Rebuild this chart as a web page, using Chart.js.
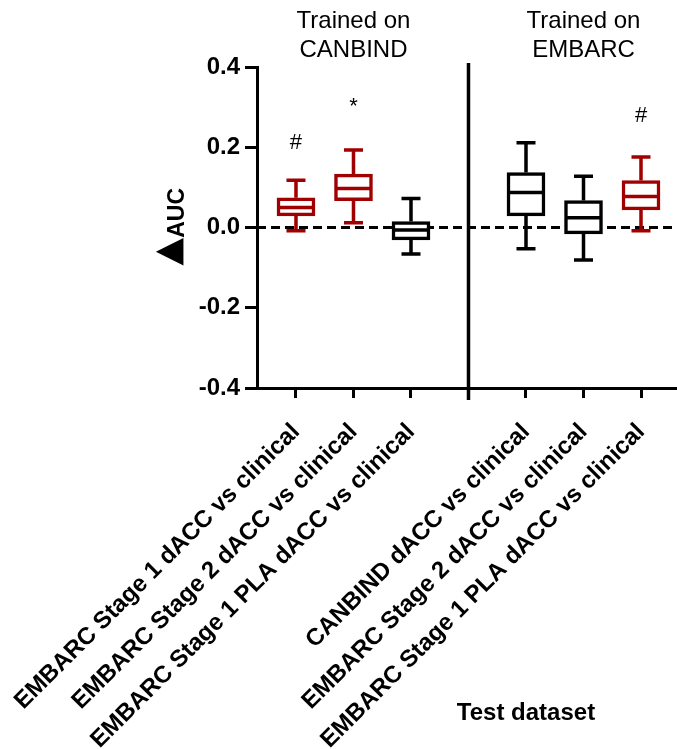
<!DOCTYPE html>
<html>
<head>
<meta charset="utf-8">
<script src="https://cdn.jsdelivr.net/npm/chart.js@4.4.1/dist/chart.umd.min.js"></script>
<style>
    html, body { margin: 0; padding: 0; background: #fff; }
    #wrap { width: 677px; height: 749px; }
</style>
</head>
<body>
<div id="wrap"><canvas id="boxChart" width="677" height="749"></canvas></div>
<script>
// test datasets, in plot order (x = 4 is the gap between the two groups)
const labels = [
    'EMBARC Stage 1 dACC vs clinical',
    'EMBARC Stage 2 dACC vs clinical',
    'EMBARC Stage 1 PLA dACC vs clinical',
    'CANBIND dACC vs clinical',
    'EMBARC Stage 2 dACC vs clinical',
    'EMBARC Stage 1 PLA dACC vs clinical'
];
const positions = [1, 2, 3, 5, 6, 7];

// box plot values (delta AUC)
const mins    = [-0.008, 0.012, -0.066, -0.053, -0.081, -0.008];
const q1s     = [ 0.029, 0.067, -0.031,  0.029, -0.016,  0.044];
const medians = [ 0.050, 0.097, -0.006,  0.087,  0.024,  0.077];
const q3s     = [ 0.074, 0.133,  0.015,  0.137,  0.067,  0.117];
const maxs    = [ 0.118, 0.193,  0.072,  0.211,  0.128,  0.176];

const boxColors = ['#a00000', '#a00000', '#000000', '#000000', '#000000', '#a00000'];

// significance marks and the value their baseline sits on
const marks = ['#', '*', '', '', '', '#'];
const markValues = [0.195, 0.285, null, null, null, 0.262];

const groupTitles = [['Trained on', 'CANBIND'], ['Trained on', 'EMBARC']];
const groupCenters = [2, 6];
const dividerAt = 4;

const yTicks = [-0.4, -0.2, 0, 0.2, 0.4];
const xMin = 0.322, xMax = 7.626;

const FONT = "'Liberation Sans', Arial, sans-serif";

const boxExtras = {
    id: 'boxExtras',
    afterDatasetsDraw(chart) {
        const { ctx, scales: { x, y } } = chart;
        ctx.save();
        ctx.lineCap = 'butt';
        positions.forEach((p, i) => {
            const cx = x.getPixelForValue(p);
            const capHalf = 9.5, boxHalf = 18.5;
            ctx.strokeStyle = boxColors[i];
            ctx.lineWidth = 3.5;
            ctx.beginPath();
            ctx.moveTo(cx, y.getPixelForValue(q3s[i]));
            ctx.lineTo(cx, y.getPixelForValue(maxs[i]));
            ctx.moveTo(cx, y.getPixelForValue(q1s[i]));
            ctx.lineTo(cx, y.getPixelForValue(mins[i]));
            ctx.moveTo(cx - capHalf, y.getPixelForValue(maxs[i]));
            ctx.lineTo(cx + capHalf, y.getPixelForValue(maxs[i]));
            ctx.moveTo(cx - capHalf, y.getPixelForValue(mins[i]));
            ctx.lineTo(cx + capHalf, y.getPixelForValue(mins[i]));
            ctx.moveTo(cx - boxHalf, y.getPixelForValue(medians[i]));
            ctx.lineTo(cx + boxHalf, y.getPixelForValue(medians[i]));
            ctx.stroke();

            if (marks[i]) {
                ctx.fillStyle = '#000';
                ctx.font = '22px ' + FONT;
                ctx.textAlign = 'center';
                ctx.textBaseline = 'alphabetic';
                ctx.fillText(marks[i], cx, y.getPixelForValue(markValues[i]));
            }
        });
        ctx.restore();
    },
    afterDraw(chart) {
        const { ctx, chartArea, scales: { x, y } } = chart;
        ctx.save();
        // group divider
        const dx = x.getPixelForValue(dividerAt);
        ctx.strokeStyle = '#000';
        ctx.lineWidth = 3.5;
        ctx.beginPath();
        ctx.moveTo(dx, chartArea.top - 4);
        ctx.lineTo(dx, chartArea.bottom + 12);
        ctx.stroke();

        // group titles
        ctx.fillStyle = '#000';
        ctx.textAlign = 'center';
        ctx.textBaseline = 'alphabetic';
        ctx.font = '24px ' + FONT;
        groupTitles.forEach((lines, g) => {
            const gx = x.getPixelForValue(groupCenters[g]);
            lines.forEach((t, k) => ctx.fillText(t, gx, 28 + k * 29));
        });

        // y axis title: big filled delta + AUC, reading upwards
        ctx.save();
        ctx.translate(184, y.getPixelForValue(0) + 36);
        ctx.rotate(-Math.PI / 2);
        ctx.textAlign = 'left';
        ctx.font = 'bold 36px DejaVu Sans, sans-serif';
        ctx.fillText('▲', -2, -5);
        const triW = ctx.measureText('▲').width - 2;
        ctx.font = 'bold 23px ' + FONT;
        ctx.fillText('AUC', triW, 0);
        ctx.restore();

        // x axis title
        ctx.font = 'bold 24px ' + FONT;
        ctx.fillText('Test dataset', x.getPixelForValue(5), 720);
        ctx.restore();
    }
};

new Chart(document.getElementById('boxChart'), {
    type: 'bar',
    data: {
        datasets: [
            {
                type: 'line',
                data: [{ x: xMin, y: 0 }, { x: xMax, y: 0 }],
                borderColor: '#000',
                borderWidth: 3,
                borderDash: [9, 5],
                pointRadius: 0,
                order: 2
            },
            {
                type: 'bar',
                data: positions.map((p, i) => ({ x: p, y: [q1s[i], q3s[i]] })),
                backgroundColor: '#fff',
                borderColor: boxColors,
                borderWidth: 3.5,
                borderSkipped: false,
                barThickness: 38,
                order: 1
            }
        ]
    },
    options: {
        responsive: false,
        animation: false,
        layout: { padding: { top: 67, left: 0, right: 0, bottom: 0 } },
        plugins: { legend: { display: false }, tooltip: { enabled: false } },
        scales: {
            x: {
                type: 'linear',
                min: xMin,
                max: xMax,
                offset: false,
                afterBuildTicks: s => { s.ticks = positions.map(v => ({ value: v })); },
                afterFit: s => {
                    s.height = 749 - 388;
                    s.paddingLeft = 0;
                    s.paddingRight = 0;
                },
                ticks: {
                    callback: v => labels[positions.indexOf(v)] || '',
                    autoSkip: false,
                    minRotation: 45,
                    maxRotation: 45,
                    padding: 20,
                    color: '#000',
                    font: { family: FONT, size: 24, weight: 'bold' }
                },
                grid: { display: true, offset: false, drawOnChartArea: false, drawTicks: true, tickLength: 10, lineWidth: 3, color: '#000' },
                border: { display: true, width: 3, color: '#000' }
            },
            y: {
                min: -0.4,
                max: 0.4,
                afterBuildTicks: s => { s.ticks = yTicks.map(v => ({ value: v })); },
                afterFit: s => { s.width = 257; },
                ticks: {
                    callback: v => v.toFixed(1),
                    padding: 5,
                    color: '#000',
                    font: { family: FONT, size: 24, weight: 'bold' }
                },
                grid: { display: true, drawOnChartArea: false, drawTicks: true, tickLength: 12, lineWidth: 3, color: '#000' },
                border: { display: true, width: 3, color: '#000' }
            }
        }
    },
    plugins: [boxExtras]
});
</script>
</body>
</html>
